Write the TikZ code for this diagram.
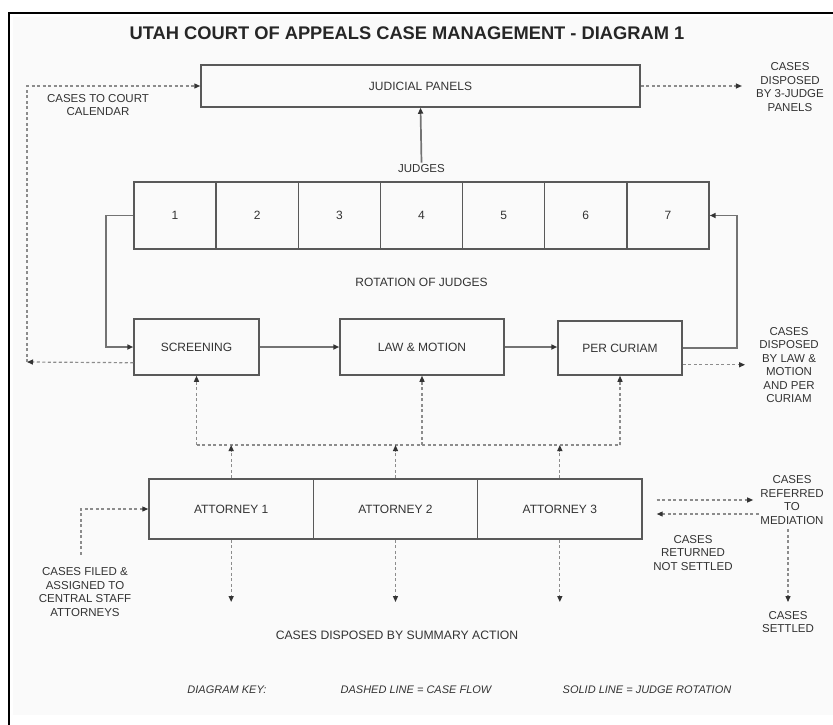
\documentclass[tikz,border=0pt]{standalone}
\usepackage{fontspec}
\setmainfont{Liberation Sans}
\usetikzlibrary{arrows.meta}

\begin{document}
\begin{tikzpicture}[x=1pt,y=-1pt,
  >={Triangle[length=6pt,width=5pt,color=black!80]},
  box/.style={draw=black!65,line width=1.5pt,inner sep=0pt,text=black!80,
    font=\fontsize{12}{14}\selectfont},
  lbl/.style={inner sep=0pt,align=center,text=black!80,
    font=\fontsize{11.5}{13.4}\selectfont},
  keytext/.style={inner sep=0pt,text=black!80,font=\fontsize{11}{13}\selectfont\itshape},
  flow/.style={draw=black!45,line width=1.2pt,dash pattern=on 3pt off 2.5pt},
  rotation/.style={draw=black!55,line width=1.7pt}]
\useasboundingbox (0,0) rectangle (833,725);
\fill [black!2] (13,17) rectangle (833,715);
\draw [line width=2pt] (8,13) -- (833,13);
\draw [line width=2pt] (9,13) -- (9,725);

\node [inner sep=0pt,text=black!85,font=\fontsize{18.3}{20}\selectfont\bfseries] (title) at (407,33)
  {UTAH COURT OF APPEALS CASE MANAGEMENT - DIAGRAM 1};

\node [box,minimum width=439pt,minimum height=42pt] (panels) at (420.5,86) {JUDICIAL PANELS};
\foreach \i in {1,...,7}
  \node [box,minimum width=82.14pt,minimum height=67pt] (j\i) at ({134+82.14*(\i-0.5)},215.5) {\i};
\node [lbl] (judges) at (421.5,169) {JUDGES};
\node [lbl,font=\fontsize{12}{14}\selectfont] (rot) at (421.5,282) {ROTATION OF JUDGES};

\node [box,minimum width=125pt,minimum height=56pt] (screen) at (196.5,347) {SCREENING};
\node [box,minimum width=164pt,minimum height=56pt] (law) at (422,347) {LAW \& MOTION};
\node [box,minimum width=124pt,minimum height=54pt] (curiam) at (620,348) {PER CURIAM};

\foreach \i in {1,2,3}
  \node [box,minimum width=164.33pt,minimum height=60pt] (a\i) at ({149+164.33*(\i-0.5)},509) {ATTORNEY \i};

\node [lbl] (calendar) at (98,105) {CASES TO COURT\\CALENDAR};
\node [lbl] (disp3) at (790,87) {CASES\\DISPOSED\\BY 3-JUDGE\\PANELS};
\node [lbl] (displaw) at (789,365) {CASES\\DISPOSED\\BY LAW \&\\MOTION\\AND PER\\CURIAM};
\node [lbl] (filed) at (85,592) {CASES FILED \&\\ASSIGNED TO\\CENTRAL STAFF\\ATTORNEYS};
\node [lbl] (mediation) at (792,500) {CASES\\REFERRED\\TO\\MEDIATION};
\node [lbl] (returned) at (693,553) {CASES\\RETURNED\\NOT SETTLED};
\node [lbl] (settled) at (788,622) {CASES\\SETTLED};
\node [lbl,font=\fontsize{12.2}{14}\selectfont] (summary) at (397,635) {CASES DISPOSED BY SUMMARY ACTION};

\node [keytext] (key) at (227,690) {DIAGRAM KEY:};
\node [keytext] (keyflow) at (416,690) {DASHED LINE = CASE FLOW};
\node [keytext] (keyrot) at (647,690) {SOLID LINE = JUDGE ROTATION};

\draw [rotation,->] ([yshift=2pt]judges.north) -- (panels.south);
\draw [rotation,->] (j1.west) -- ++(-27,0) |- (screen.west);
\draw [rotation,->] (screen.east) -- (law.west);
\draw [rotation,->] (law.east) -- (law.east -| curiam.west);
\draw [rotation,->] (curiam.east) -- ++(54,0) |- (j7.east);

\coordinate (turn) at (27,362);
\coordinate (bus) at (0,445);
\coordinate (down) at (0,602);
\coordinate (lawout) at ([yshift=11pt]curiam.south east);
\coordinate (medout) at ([shift={(14pt,9pt)}]a3.east);
\coordinate (medback) at ([shift={(14pt,-5pt)}]a3.east);
\draw [flow,->] ([yshift=13pt]screen.south west) -- (turn);
\draw [flow,->] (turn) |- (panels.west);
\draw [flow,->,shorten >=14pt] (panels.east) -- (panels.east -| disp3.west);
\draw [flow,->,shorten >=14pt] (lawout) -- (lawout -| displaw.west);
\draw [flow] (screen.south |- bus) -- (curiam.south |- bus);
\draw [flow,->] (screen.south |- bus) -- (screen.south);
\draw [flow,->] (law.south |- bus) -- (law.south);
\draw [flow,->] (curiam.south |- bus) -- (curiam.south);
\foreach \i in {1,2,3} {
  \draw [flow,->] (a\i.north) -- (a\i.north |- bus);
  \draw [flow,->] (a\i.south) -- (a\i.south |- down);
}
\draw [flow,->] ([shift={(-4pt,13pt)}]filed.north) |- (a1.west);
\draw [flow,->,shorten >=7pt] (medout) -- (medout -| mediation.west);
\draw [flow,<-] (medback) -- (medback -| mediation.west);
\draw [flow,->,shorten <=5pt,shorten >=9pt] (mediation.south -| settled.north) -- (settled.north);
\end{tikzpicture}
\end{document}
